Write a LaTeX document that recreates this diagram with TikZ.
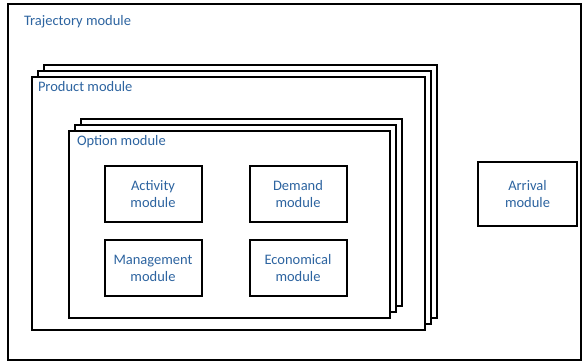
\documentclass[tikz,border=0pt]{standalone}
\usepackage{fontspec}
\setmainfont{Carlito}
\usepackage{xcolor}
\usepackage{tikz}
\usetikzlibrary{shapes, shadows, positioning}
\definecolor{labelblue}{RGB}{45,100,160}

\begin{document}
\begin{tikzpicture}[x=1pt,y=-1pt,node distance=145pt,line width=2pt,
      box node/.style={rectangle,draw,fill=white,minimum width=97pt,minimum height=56pt,
        align=center,text=labelblue,font=\fontsize{14.5}{17}\selectfont},
      stack node/.style={rectangle,draw,fill=white,
        double copy shadow={shadow xshift=6pt,shadow yshift=6pt}},
      title node/.style={anchor=base west,inner sep=0pt,text=labelblue,
        font=\fontsize{14.5}{17}\selectfont}]

    \useasboundingbox (0,0) rectangle (583,363);

    \node[rectangle,draw,minimum width=573pt,minimum height=356pt] (traj) at (294.5,182) {};
    \node[box node,minimum width=99pt,minimum height=64pt] (arr) at (527.5,194) {Arrival\\module};

    \node[stack node,minimum width=393pt,minimum height=253pt] (prod) at (228.5,203.5) {};
    \node[stack node,minimum width=321pt,minimum height=187pt] (opt) at (229.5,224.5) {};

    \node[box node] (act) at (153,194.5) {Activity\\module};
    \node[box node] (dem) [right of=act] {Demand\\module};
    \node[box node,node distance=73.5pt] (man) [below of=act] {Management\\module};
    \node[box node] (eco) [right of=man] {Economical\\module};

    \node[title node] (trajlabel) at (23,26) {Trajectory module};
    \node[title node] (prodlabel) at (37,92) {Product module};
    \node[title node] (optlabel) at (76,146) {Option module};
\end{tikzpicture}
\end{document}
